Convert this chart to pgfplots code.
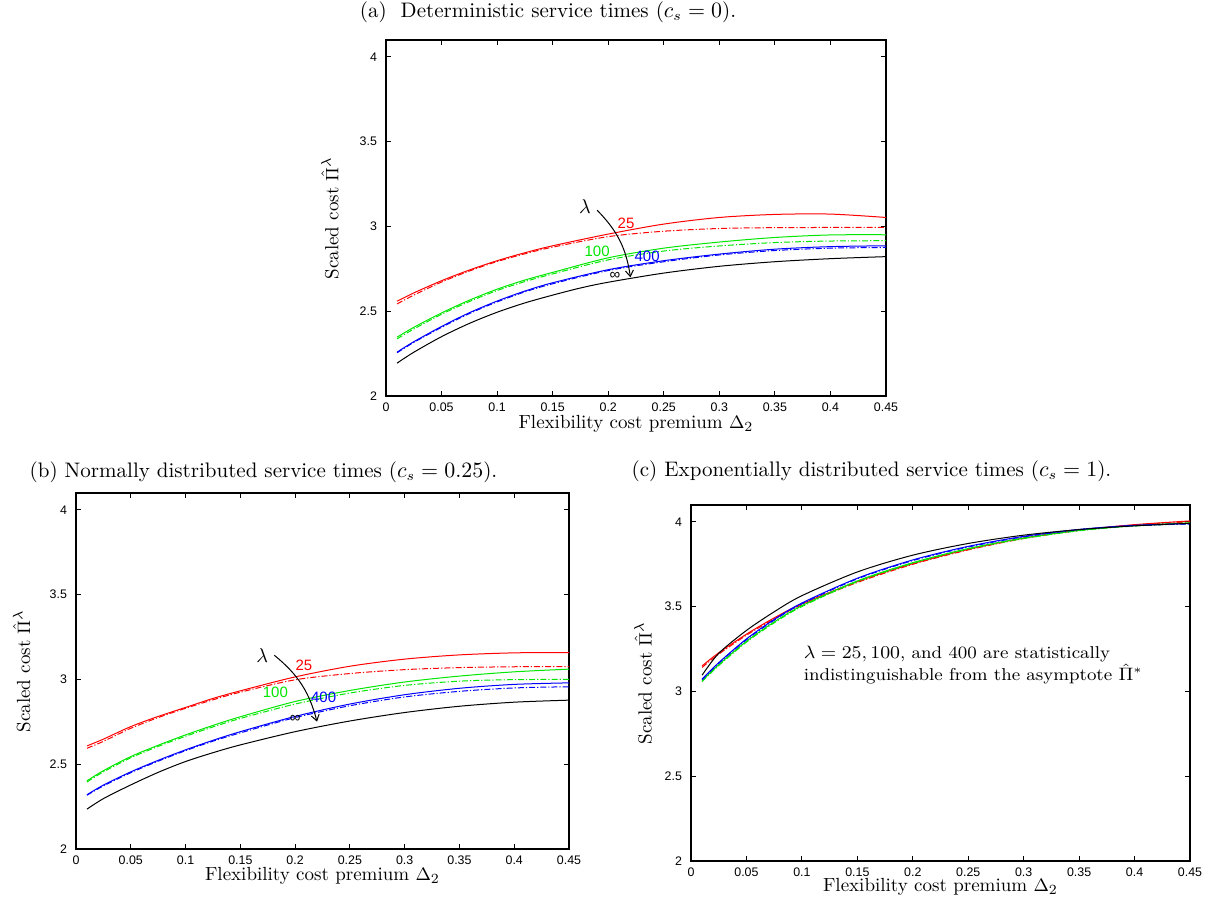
\documentclass[border=0pt]{standalone}
\usepackage{fontspec}
\usepackage{pgfplots}
\pgfplotsset{compat=1.18}
\usetikzlibrary{arrows.meta}
\newfontfamily\hel{Liberation Sans}
\definecolor{gred}{RGB}{255,0,0}
\definecolor{ggreen}{RGB}{0,230,0}
\definecolor{gblue}{RGB}{0,0,255}

\tikzset{
  dd/.style={dash pattern=on 3pt off 1pt on 0.6pt off 1pt},
  nlab/.style={font=\hel\fontsize{7.5}{8}\selectfont},
}
\pgfplotsset{
  panel/.style={
    scale only axis, height=178pt,
    xmin=0, xmax=0.45, ymin=2, ymax=4.1,
    xtick={0,0.05,0.1,0.15,0.2,0.25,0.3,0.35,0.4,0.45},
    xticklabels={0,0.05,0.1,0.15,0.2,0.25,0.3,0.35,0.4,0.45},
    ytick={2,2.5,3,3.5,4}, yticklabels={2,2.5,3,3.5,4},
    tick align=inside, major tick length=2.5pt,
    axis line style={line width=0.7pt}, every tick/.style={black, line width=0.5pt},
    /pgf/number format/assume math mode=true,
    tick label style={font=\hel\fontsize{6.2}{7}\selectfont},
    label style={font=\fontsize{9.5}{11}\selectfont},
    xlabel={Flexibility cost premium $\Delta_2$},
    ylabel={Scaled cost $\hat{\Pi}^{\lambda}$},
    xticklabel style={yshift=0.3pt},
    yticklabel style={xshift=-1pt},
    every axis plot/.append style={line width=0.5pt, smooth, no markers},
  },
}

\begin{document}
\begin{tikzpicture}
\useasboundingbox (0,0) rectangle (604.5pt,448.5pt);

% ---------------- (a)
\node[font=\fontsize{10.5}{12}\selectfont] at (274pt,442.5pt) {(a)\ \ Deterministic service times ($c_s=0$).};
\begin{axis}[panel, at={(193pt,250.5pt)}, anchor=south west, width=250pt,
  xlabel style={at={(axis description cs:0.5,-0.078)}, anchor=center},
  ylabel style={at={(axis description cs:-0.112,0.5)}, anchor=center}]
\addplot[gred] coordinates {(0.01,2.559)(0.025,2.608)(0.05,2.680)(0.075,2.743)(0.1,2.798)(0.125,2.845)(0.15,2.886)(0.2,2.955)(0.25,3.014)(0.3,3.053)(0.35,3.071)(0.4,3.073)(0.45,3.053)};
\addplot[gred,dd] coordinates {(0.01,2.543)(0.025,2.595)(0.05,2.672)(0.075,2.737)(0.1,2.793)(0.125,2.839)(0.15,2.878)(0.2,2.940)(0.25,2.972)(0.3,2.988)(0.35,2.993)(0.4,2.994)(0.45,2.994)};
\addplot[ggreen] coordinates {(0.01,2.347)(0.025,2.405)(0.05,2.490)(0.075,2.565)(0.1,2.630)(0.125,2.684)(0.15,2.729)(0.2,2.815)(0.25,2.872)(0.3,2.908)(0.35,2.935)(0.4,2.950)(0.45,2.951)};
\addplot[ggreen,dd] coordinates {(0.01,2.337)(0.025,2.395)(0.05,2.482)(0.075,2.557)(0.1,2.622)(0.125,2.675)(0.15,2.720)(0.2,2.803)(0.25,2.855)(0.3,2.885)(0.35,2.905)(0.4,2.914)(0.45,2.916)};
\addplot[gblue] coordinates {(0.01,2.259)(0.025,2.320)(0.05,2.410)(0.075,2.491)(0.1,2.560)(0.125,2.619)(0.15,2.668)(0.2,2.745)(0.25,2.798)(0.3,2.837)(0.35,2.866)(0.4,2.881)(0.45,2.886)};
\addplot[gblue,dd] coordinates {(0.01,2.255)(0.025,2.316)(0.05,2.405)(0.075,2.486)(0.1,2.555)(0.125,2.614)(0.15,2.662)(0.2,2.740)(0.25,2.792)(0.3,2.832)(0.35,2.858)(0.4,2.872)(0.45,2.876)};
\addplot[black] coordinates {(0.01,2.194)(0.025,2.258)(0.05,2.350)(0.075,2.428)(0.1,2.494)(0.125,2.549)(0.15,2.595)(0.175,2.637)(0.2,2.671)(0.25,2.725)(0.3,2.765)(0.35,2.792)(0.4,2.810)(0.45,2.822)};
\node at (axis cs:0.179,3.116) {$\lambda$};
\draw[line width=0.5pt,-{Straight Barb[length=3pt,width=4pt]}] (axis cs:0.19,3.096) to[bend left=18] (axis cs:0.22,2.70);
\node[nlab,text=gred] at (axis cs:0.216,3.018) {25};
\node[nlab,text=ggreen] at (axis cs:0.19,2.851) {100};
\node[nlab,text=gblue] at (axis cs:0.235,2.822) {400};
\node[nlab] at (axis cs:0.206,2.71) {∞};
\end{axis}

% ---------------- (b)
\node[font=\fontsize{10.5}{12}\selectfont] at (131.75pt,212.5pt) {(b) Normally distributed service times ($c_s=0.25$).};
\begin{axis}[panel, at={(38pt,24pt)}, anchor=south west, width=246.5pt,
  xlabel style={at={(axis description cs:0.5,-0.076)}, anchor=center},
  ylabel style={at={(axis description cs:-0.11,0.5)}, anchor=center}]
\addplot[gred] coordinates {(0.01,2.608)(0.025,2.648)(0.05,2.722)(0.075,2.782)(0.1,2.835)(0.125,2.888)(0.15,2.933)(0.2,3.015)(0.25,3.078)(0.3,3.120)(0.35,3.145)(0.4,3.157)(0.45,3.159)};
\addplot[gred,dd] coordinates {(0.01,2.594)(0.025,2.635)(0.05,2.712)(0.075,2.775)(0.1,2.830)(0.125,2.880)(0.15,2.925)(0.2,2.998)(0.25,3.035)(0.3,3.058)(0.35,3.070)(0.4,3.075)(0.45,3.076)};
\addplot[ggreen] coordinates {(0.01,2.402)(0.025,2.462)(0.05,2.545)(0.075,2.612)(0.1,2.673)(0.125,2.729)(0.15,2.780)(0.2,2.870)(0.25,2.935)(0.3,2.985)(0.35,3.020)(0.4,3.045)(0.45,3.061)};
\addplot[ggreen,dd] coordinates {(0.01,2.395)(0.025,2.455)(0.05,2.538)(0.075,2.605)(0.1,2.665)(0.125,2.720)(0.15,2.770)(0.2,2.855)(0.25,2.920)(0.3,2.965)(0.35,2.990)(0.4,2.999)(0.45,3.000)};
\addplot[gblue] coordinates {(0.01,2.320)(0.025,2.377)(0.05,2.455)(0.075,2.523)(0.1,2.585)(0.125,2.641)(0.15,2.692)(0.2,2.782)(0.25,2.855)(0.3,2.910)(0.35,2.948)(0.4,2.971)(0.45,2.980)};
\addplot[gblue,dd] coordinates {(0.01,2.317)(0.025,2.372)(0.05,2.450)(0.075,2.518)(0.1,2.580)(0.125,2.636)(0.15,2.685)(0.2,2.775)(0.25,2.845)(0.3,2.897)(0.35,2.930)(0.4,2.950)(0.45,2.957)};
\addplot[black] coordinates {(0.01,2.235)(0.025,2.297)(0.05,2.378)(0.075,2.452)(0.1,2.516)(0.125,2.568)(0.15,2.614)(0.2,2.692)(0.25,2.755)(0.3,2.805)(0.35,2.842)(0.4,2.866)(0.45,2.878)};
\node at (axis cs:0.17,3.143) {$\lambda$};
\draw[line width=0.5pt,-{Straight Barb[length=3pt,width=4pt]}] (axis cs:0.181,3.143) to[bend left=18] (axis cs:0.22,2.751);
\node[nlab,text=gred] at (axis cs:0.208,3.084) {25};
\node[nlab,text=ggreen] at (axis cs:0.182,2.922) {100};
\node[nlab,text=gblue] at (axis cs:0.226,2.894) {400};
\node[nlab] at (axis cs:0.2,2.77) {∞};
\end{axis}

% ---------------- (c)
\node[font=\fontsize{10.5}{12}\selectfont] at (435.75pt,213pt) {(c) Exponentially distributed service times ($c_s=1$).};
\begin{axis}[panel, at={(345.5pt,18pt)}, anchor=south west, width=249.5pt,
  xlabel style={at={(axis description cs:0.5,-0.074)}, anchor=center},
  ylabel style={at={(axis description cs:-0.096,0.5)}, anchor=center}]
\addplot[gred] coordinates {(0.01,3.151)(0.025,3.228)(0.05,3.338)(0.075,3.434)(0.1,3.517)(0.15,3.648)(0.2,3.754)(0.25,3.838)(0.3,3.905)(0.35,3.952)(0.4,3.984)(0.45,4.006)};
\addplot[gred,dd] coordinates {(0.01,3.142)(0.025,3.220)(0.05,3.332)(0.075,3.428)(0.1,3.511)(0.15,3.643)(0.2,3.750)(0.25,3.835)(0.3,3.902)(0.35,3.950)(0.4,3.982)(0.45,4.000)};
\addplot[ggreen] coordinates {(0.01,3.063)(0.025,3.158)(0.05,3.296)(0.075,3.410)(0.1,3.506)(0.15,3.652)(0.2,3.760)(0.25,3.843)(0.3,3.905)(0.35,3.950)(0.4,3.978)(0.45,3.995)};
\addplot[ggreen,dd] coordinates {(0.01,3.058)(0.025,3.153)(0.05,3.291)(0.075,3.405)(0.1,3.501)(0.15,3.648)(0.2,3.756)(0.25,3.840)(0.3,3.902)(0.35,3.948)(0.4,3.976)(0.45,3.990)};
\addplot[gblue] coordinates {(0.01,3.073)(0.025,3.170)(0.05,3.310)(0.075,3.425)(0.1,3.522)(0.15,3.668)(0.2,3.776)(0.25,3.856)(0.3,3.915)(0.35,3.956)(0.4,3.980)(0.45,3.990)};
\addplot[gblue,dd] coordinates {(0.01,3.069)(0.025,3.166)(0.05,3.305)(0.075,3.420)(0.1,3.517)(0.15,3.664)(0.2,3.772)(0.25,3.852)(0.3,3.912)(0.35,3.954)(0.4,3.978)(0.45,3.988)};
\addplot[black] coordinates {(0.01,3.096)(0.025,3.225)(0.05,3.360)(0.075,3.470)(0.1,3.565)(0.15,3.705)(0.2,3.804)(0.25,3.873)(0.3,3.922)(0.35,3.955)(0.4,3.977)(0.45,3.992)};
\node[anchor=west, align=left, xscale=1.07, font=\fontsize{8.6}{9.8}\selectfont] at (axis cs:0.095,3.155)
  {$\lambda=25, 100$, and 400 are statistically\\ indistinguishable from the asymptote $\hat{\Pi}^{*}$};
\end{axis}
\end{tikzpicture}
\end{document}
